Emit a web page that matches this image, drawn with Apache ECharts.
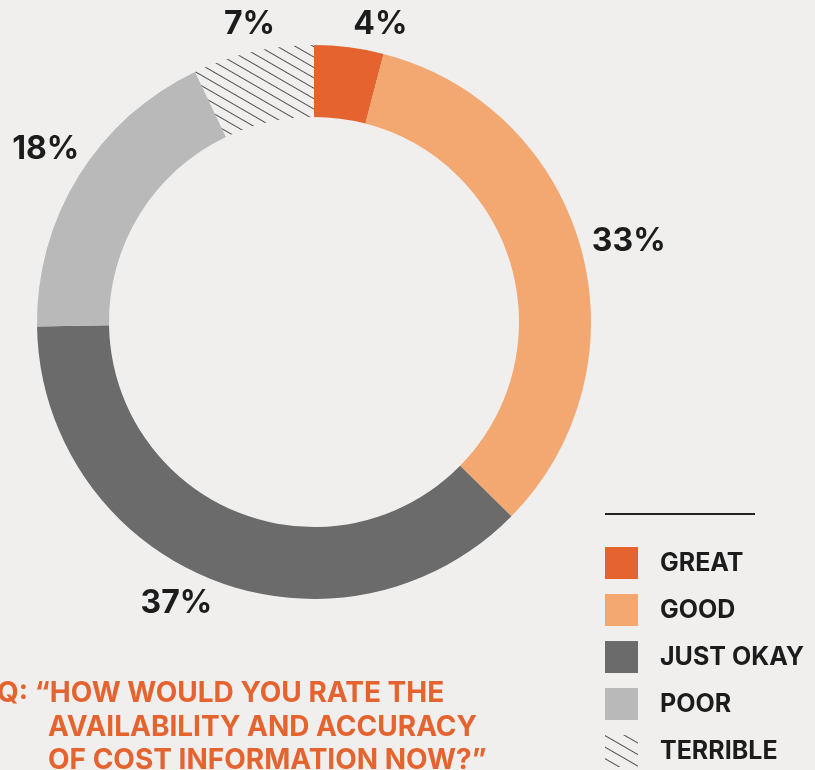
<!DOCTYPE html>
<html>
<head>
<meta charset="utf-8">
<style>
  html, body { margin: 0; padding: 0; background: #f0efed; }
  #chart { width: 815px; height: 770px; }
</style>
<script src="https://cdn.jsdelivr.net/npm/echarts@6/dist/echarts.min.js"></script>
</head>
<body>
<div id="chart"></div>
<script>
// Survey answers, in percent
const categories = ['GREAT', 'GOOD', 'JUST OKAY', 'POOR', 'TERRIBLE'];
const shares = [4, 33, 37, 18, 7];
const questionLines = [
  'Q: \u201CHOW WOULD YOU RATE THE',
  'AVAILABILITY AND ACCURACY',
  'OF COST INFORMATION NOW?\u201D'
];

const FONT = 'Inter, "Noto Sans", sans-serif';
const TEXT_DARK = '#1c1c1c';
const ORANGE = '#e4632f';

const sliceColors = ['#e4632f', '#f3a872', '#6b6b6b', '#b9b9b9', 'transparent'];
// thin diagonal hatching for the last answer
function hatchPattern(gap) {
  return {
    symbol: 'rect',
    color: '#505050',
    backgroundColor: 'transparent',
    dashArrayX: [[1, 0]],
    dashArrayY: [1, gap],
    rotation: Math.PI / 6
  };
}
// nudges that keep the outer labels clear of each other
const labelNudge = [[27, 11], [15, 2], [-22, -7], [-4, -9], [4, 6]];

const ringData = categories.map((name, i) => ({
  name: name,
  value: shares[i],
  itemStyle: i === 4
    ? { color: 'transparent', decal: hatchPattern(7.5) }
    : { color: sliceColors[i] }
}));

const labelData = categories.map((name, i) => ({
  name: name,
  value: shares[i],
  label: { offset: labelNudge[i] }
}));

const legendData = categories.map((name, i) => (
  i === 4
    ? { name: name, itemStyle: { color: 'transparent', decal: hatchPattern(9) } }
    : { name: name }
));

const chart = echarts.init(document.getElementById('chart'), null, { renderer: 'canvas' });

chart.setOption({
  backgroundColor: '#f0efed',
  animation: false,
  legend: {
    data: legendData,
    orient: 'vertical',
    left: 605,
    top: 547,
    padding: 0,
    itemWidth: 33,
    itemHeight: 32,
    itemGap: 15,
    selectedMode: false,
    icon: 'rect',
    textStyle: {
      fontFamily: FONT,
      fontWeight: 'bold',
      fontSize: 25,
      color: TEXT_DARK,
      padding: [0, 0, 0, 17]
    }
  },
  series: [
    {
      type: 'pie',
      name: 'rating',
      center: [314, 322],
      radius: [205, 277],
      startAngle: 90,
      clockwise: true,
      silent: true,
      label: { show: false },
      labelLine: { show: false },
      emphasis: { disabled: true },
      data: ringData
    },
    {
      type: 'pie',
      name: 'labels',
      center: [314, 322],
      radius: [293, 323],
      startAngle: 90,
      clockwise: true,
      silent: true,
      legendHoverLink: false,
      itemStyle: { color: 'transparent' },
      emphasis: { disabled: true },
      labelLine: { show: false },
      label: {
        show: true,
        position: 'inside',
        rotate: 0,
        formatter: '{c}%',
        fontFamily: FONT,
        fontWeight: 'bold',
        fontSize: 32,
        color: TEXT_DARK
      },
      data: labelData
    }
  ],
  graphic: [
    {
      type: 'line',
      shape: { x1: 605, y1: 514, x2: 755, y2: 514 },
      style: { stroke: '#222', lineWidth: 2 }
    },
    ...questionLines.map((line, i) => ({
      type: 'text',
      left: i === 0 ? -3 : 48,
      top: 680 + i * 33.5,
      style: {
        text: line,
        fontFamily: FONT,
        fontWeight: 'bold',
        fontSize: 28,
        fill: ORANGE
      }
    }))
  ]
});
</script>
</body>
</html>
